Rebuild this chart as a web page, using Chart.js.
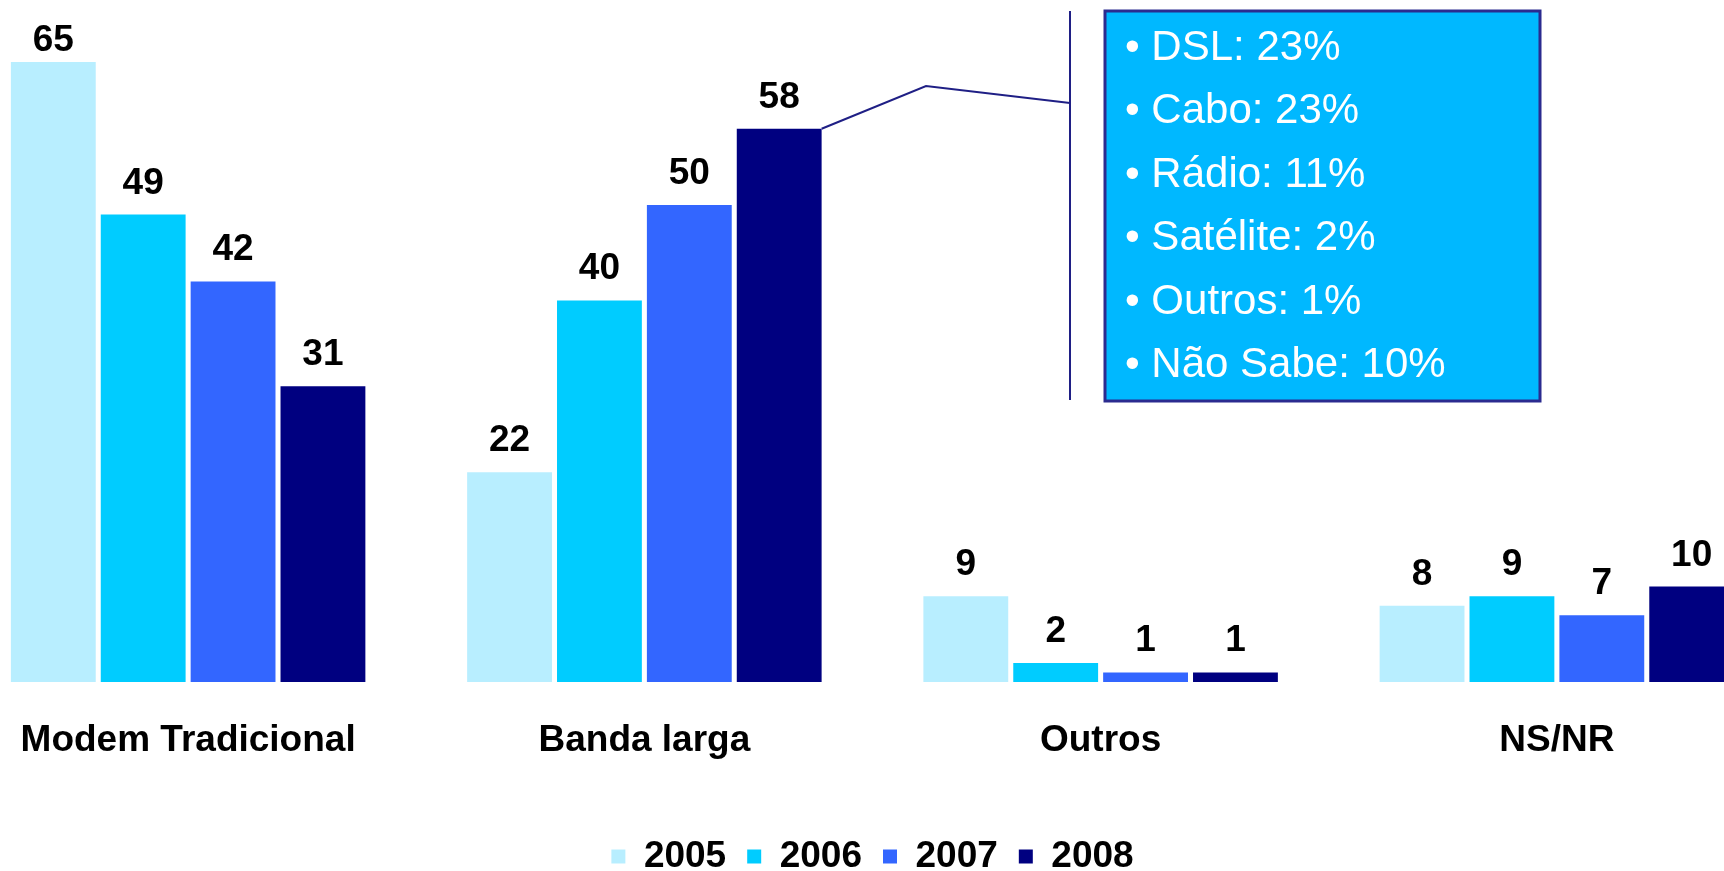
<!DOCTYPE html>
<html>
<head>
<meta charset="utf-8">
<script src="https://cdn.jsdelivr.net/npm/chart.js@4/dist/chart.umd.min.js"></script>
<style>
  html, body { margin: 0; padding: 0; background: #fff; overflow: hidden; width: 1724px; height: 871px; }
  #wrap { position: absolute; left: -40px; top: 0; width: 1825px; height: 885px; }
</style>
</head>
<body>
<div id="wrap"><canvas id="chart"></canvas></div>
<script>
const categories = ['Modem Tradicional', 'Banda larga', 'Outros', 'NS/NR'];
const years = ['2005', '2006', '2007', '2008'];
const values2005 = [65, 22, 9, 8];
const values2006 = [49, 40, 2, 9];
const values2007 = [42, 50, 1, 7];
const values2008 = [31, 58, 1, 10];
const colors = ['#B8EEFF', '#00CCFF', '#3366FF', '#000080'];

// breakdown of "Banda larga" shown in the callout
const breakdownLabels = ['DSL', 'Cabo', 'Rádio', 'Satélite', 'Outros', 'Não Sabe'];
const breakdownValues = [23, 23, 11, 2, 1, 10];

const FONT = '"Liberation Sans", Arial, Helvetica, sans-serif';
const shiftX = 40; // canvas starts 40px left of the page

const valueLabels = {
    id: 'valueLabels',
    afterDatasetsDraw(chart) {
        const ctx = chart.ctx;
        ctx.save();
        ctx.font = 'bold 37px ' + FONT;
        ctx.fillStyle = '#000';
        ctx.textAlign = 'center';
        ctx.textBaseline = 'alphabetic';
        chart.data.datasets.forEach((ds, i) => {
            chart.getDatasetMeta(i).data.forEach((bar, j) => {
                const y = Math.max(bar.y - 21, chart.chartArea.top + 51);
                ctx.fillText(String(ds.data[j]), bar.x, y);
            });
        });
        ctx.restore();
    }
};

const callout = {
    id: 'callout',
    afterDraw(chart) {
        const ctx = chart.ctx;
        const bar = chart.getDatasetMeta(3).data[1];
        ctx.save();
        // leader line from the 2008 broadband bar
        ctx.strokeStyle = '#1F1F85';
        ctx.lineWidth = 2;
        ctx.beginPath();
        ctx.moveTo(bar.x + bar.width / 2, bar.y);
        ctx.lineTo(926 + shiftX, 86);
        ctx.lineTo(1070 + shiftX, 103);
        ctx.stroke();
        ctx.beginPath();
        ctx.moveTo(1070 + shiftX, 11);
        ctx.lineTo(1070 + shiftX, 400);
        ctx.stroke();
        // box
        ctx.fillStyle = '#00B8FF';
        ctx.fillRect(1105 + shiftX, 11, 435, 390);
        ctx.strokeStyle = '#2B2B8F';
        ctx.lineWidth = 3;
        ctx.strokeRect(1105 + shiftX, 11, 435, 390);
        ctx.fillStyle = '#fff';
        ctx.font = '42px ' + FONT;
        ctx.textAlign = 'left';
        ctx.textBaseline = 'alphabetic';
        breakdownLabels.forEach((lbl, i) => {
            ctx.fillText('\u2022 ' + lbl + ': ' + breakdownValues[i] + '%', 1125 + shiftX, 60 + i * 63.4);
        });
        ctx.restore();
    }
};

const seriesValues = [values2005, values2006, values2007, values2008];

new Chart(document.getElementById('chart'), {
    type: 'bar',
    data: {
        labels: categories,
        datasets: years.map((y, i) => ({
            label: y,
            data: seriesValues[i],
            backgroundColor: colors[i],
            borderWidth: 0,
            categoryPercentage: 0.788,
            barPercentage: 0.944
        }))
    },
    options: {
        responsive: true,
        maintainAspectRatio: false,
        devicePixelRatio: 1,
        animation: false,
        layout: { padding: 0 },
        plugins: {
            tooltip: { enabled: false },
            legend: {
                position: 'bottom',
                labels: {
                    boxWidth: 14,
                    boxHeight: 14,
                    padding: 21,
                    color: '#000',
                    font: { family: FONT, size: 37, weight: 'bold' }
                }
            }
        },
        scales: {
            x: {
                grid: { display: false, drawTicks: false },
                border: { display: false },
                ticks: {
                    color: '#000',
                    padding: 37,
                    font: { family: FONT, size: 37, weight: 'bold' }
                },
                afterFit: (scale) => { scale.height = 135; }
            },
            y: {
                display: false,
                min: 0,
                max: 71.5
            }
        }
    },
    plugins: [valueLabels, callout]
});
</script>
</body>
</html>
